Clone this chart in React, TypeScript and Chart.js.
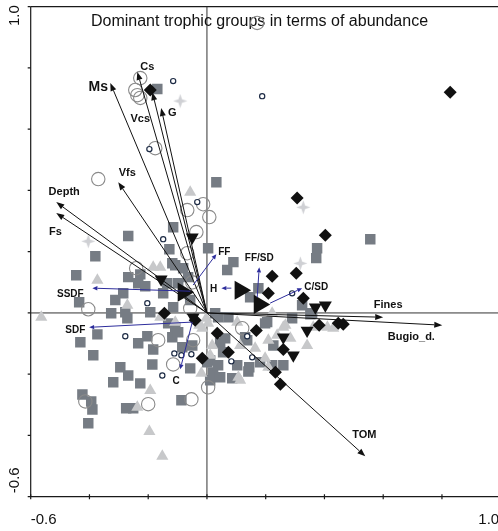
import { useEffect, useRef } from "react";
import { Chart, registerables } from "chart.js";

Chart.register(...registerables);

// ---- data (ordination scores, axis 1 = x, axis 2 = y) ----
const axisMin = -0.6;
const axisMax = 1.0;
const axisTicks = [-0.6, -0.4, -0.2, 0, 0.2, 0.4, 0.6, 0.8, 1.0];
const axisEndLabels = ["-0.6", "1.0"];
const chartTitle = "Dominant trophic groups in terms of abundance";

const squares: [number, number][] = [
  [-0.169, 0.731], [0.032, 0.427], [0.556, 0.241], [-0.115, 0.28], [-0.268, 0.251],
  [-0.128, 0.208], [-0.38, 0.185], [0.004, 0.211], [-0.118, 0.162], [-0.081, 0.146],
  [-0.445, 0.123], [-0.268, 0.117], [-0.227, 0.126], [-0.234, 0.097], [-0.21, 0.087],
  [-0.135, 0.097], [-0.064, 0.117], [-0.149, 0.064], [-0.285, 0.064], [-0.312, 0.042],
  [-0.435, 0.035], [-0.326, -0.001], [-0.278, 0.002], [-0.193, 0.002], [-0.115, 0.019],
  [-0.057, 0.042], [0.028, -0.001], [0.073, -0.014], [-0.271, -0.017], [-0.373, -0.07],
  [-0.431, -0.096], [-0.387, -0.138], [-0.234, -0.099], [-0.203, -0.076], [-0.183, -0.119],
  [-0.118, -0.079], [-0.108, -0.047], [-0.084, -0.112], [-0.295, -0.177], [-0.186, -0.168],
  [-0.057, -0.181], [0.001, -0.161], [0.021, -0.194], [-0.268, -0.204], [-0.319, -0.226],
  [-0.227, -0.23], [-0.424, -0.266], [-0.394, -0.289], [-0.39, -0.315], [-0.404, -0.36],
  [-0.275, -0.311], [-0.251, -0.311], [-0.087, -0.285], [0.011, -0.22], [0.045, -0.21],
  [0.086, -0.213], [0.141, -0.191], [0.038, -0.014], [0.13, -0.079], [0.062, -0.083],
  [0.045, -0.099], [0.055, -0.128], [0.011, -0.155], [0.038, -0.171], [0.103, -0.171],
  [0.137, -0.089], [0.144, -0.177], [0.181, -0.161], [0.198, -0.034], [0.29, -0.017],
  [0.352, -0.004], [0.226, -0.106], [0.26, -0.171], [0.222, -0.171], [-0.098, -0.063],
  [-0.132, -0.034], [-0.05, -0.106], [0.09, 0.166], [0.069, 0.14], [0.147, 0.051],
  [0.175, 0.081], [0.375, 0.211], [0.372, 0.179], [0.324, 0.025], [0.205, -0.03],
  [-0.108, 0.156], [-0.098, 0.097], [0.358, -0.001],
];

const lightTriangles: [number, number][] = [
  [-0.057, 0.394], [-0.564, -0.014], [-0.373, 0.107], [-0.183, 0.149], [-0.159, 0.149],
  [-0.271, 0.025], [-0.159, -0.014], [-0.002, -0.017], [-0.026, -0.04], [-0.193, -0.253],
  [-0.237, -0.308], [-0.196, -0.387], [-0.152, -0.468], [-0.019, -0.197], [0.107, -0.21],
  [0.004, -0.034], [0.103, -0.03], [0.113, -0.106], [0.164, -0.115], [0.239, -0.073],
  [0.209, -0.089], [0.26, -0.047], [0.284, -0.083], [0.341, -0.106], [0.209, -0.177],
  [0.113, -0.22], [0.018, -0.106], [-0.016, -0.05], [0.198, -0.148], [0.362, -0.047],
  [0.222, -0.001], [0.267, -0.04], [0.41, -0.047], [0.43, -0.05], [0.011, -0.138],
  [-0.108, -0.03],
];

const openCircles: [number, number][] = [
  [-0.227, 0.767], [-0.244, 0.728], [-0.237, 0.711], [-0.227, 0.702], [-0.176, 0.538],
  [-0.37, 0.437], [0.171, 0.947], [-0.067, 0.336], [-0.013, 0.355], [0.008, 0.313],
  [-0.036, 0.264], [-0.067, 0.195], [-0.05, 0.1], [-0.241, 0.146], [-0.404, 0.012],
  [-0.166, -0.089], [-0.2, -0.298], [-0.414, -0.289], [-0.115, -0.168], [-0.053, -0.282],
  [0.004, -0.243], [0.12, -0.05], [-0.047, -0.089], [-0.057, 0.015],
];

const smallCircles: [number, number][] = [
  [-0.115, 0.757], [-0.196, 0.535], [0.188, 0.708], [-0.033, 0.362], [-0.149, 0.241],
  [-0.203, 0.032], [-0.278, -0.076], [-0.111, -0.132], [-0.087, -0.138], [-0.053, -0.135],
  [-0.152, -0.204], [0.137, -0.076], [0.083, -0.158], [0.154, -0.145], [0.29, 0.064],
];

const diamonds: [number, number][] = [
  [-0.193, 0.728], [0.828, 0.721], [0.307, 0.375], [0.403, 0.254], [0.304, 0.13],
  [0.222, 0.12], [0.209, 0.064], [0.328, 0.048], [0.382, -0.04], [0.447, -0.034],
  [0.464, -0.037], [0.168, -0.057], [0.035, -0.066], [-0.145, -0.001], [-0.016, -0.148],
  [0.26, -0.119], [0.233, -0.194], [0.25, -0.233], [0.073, -0.128], [-0.04, -0.024],
];

const downTriangles: [number, number][] = [
  [-0.05, 0.247], [0.369, 0.019], [0.403, 0.025], [0.341, -0.057], [0.294, -0.138],
  [0.26, -0.079], [-0.047, -0.014], [-0.156, 0.11],
];

const stars: [number, number][] = [
  [-0.091, 0.692], [-0.404, 0.234], [0.328, 0.345], [0.318, 0.162],
];

const centroids: [number, number][] = [
  [-0.081, 0.068], [0.113, 0.074], [0.178, 0.028],
];

// environmental variables (arrows from origin)
const envNames = ["Cs", "Ms", "Vcs", "G", "Vfs", "Depth", "Fs", "Fines", "Bugio_d.", "TOM"];
const envX = [-0.237, -0.329, -0.186, -0.156, -0.302, -0.513, -0.513, 0.6, 0.801, 0.539];
const envY = [0.787, 0.751, 0.721, 0.669, 0.427, 0.362, 0.326, -0.014, -0.04, -0.468];
const envLabelX = [-0.203, -0.37, -0.227, -0.118, -0.271, -0.486, -0.516, 0.617, 0.696, 0.536];
const envLabelY = [0.803, 0.738, 0.633, 0.653, 0.457, 0.394, 0.264, 0.025, -0.079, -0.397];
const envLabelSize = [11, 14, 11, 11, 11, 11, 11, 11, 11, 11];

// trophic groups (supplementary arrows)
const groupNames = ["SSDF", "FF", "H", "FF/SD", "C/SD", "SDF", "C"];
const groupFromX = [-0.057, -0.047, 0.083, 0.171, 0.215, -0.053, -0.05];
const groupFromY = [0.071, 0.091, 0.081, 0.051, 0.032, -0.03, -0.03];
const groupToX = [-0.39, 0.032, 0.049, 0.178, 0.324, -0.401, -0.091];
const groupToY = [0.081, 0.192, 0.081, 0.149, 0.081, -0.047, -0.184];
const groupLabelX = [-0.465, 0.059, 0.023, 0.178, 0.372, -0.448, -0.105];
const groupLabelY = [0.061, 0.198, 0.077, 0.179, 0.084, -0.055, -0.222];

const FONT = "'Liberation Sans', Arial, Helvetica, sans-serif";

function makeStar(): HTMLCanvasElement {
  const c = document.createElement("canvas");
  c.width = 15;
  c.height = 15;
  const g = c.getContext("2d")!;
  g.fillStyle = "#cfd0d4";
  g.beginPath();
  g.moveTo(7.5, 0.5);
  g.lineTo(9.3, 5.7);
  g.lineTo(14.5, 7.5);
  g.lineTo(9.3, 9.3);
  g.lineTo(7.5, 14.5);
  g.lineTo(5.7, 9.3);
  g.lineTo(0.5, 7.5);
  g.lineTo(5.7, 5.7);
  g.closePath();
  g.fill();
  return c;
}

function drawArrow(
  ctx: CanvasRenderingContext2D,
  x0: number, y0: number, x1: number, y1: number,
  color: string, headLen: number, headW: number, lw: number
) {
  const ang = Math.atan2(y1 - y0, x1 - x0);
  const bx = x1 - headLen * Math.cos(ang);
  const by = y1 - headLen * Math.sin(ang);
  ctx.strokeStyle = color;
  ctx.fillStyle = color;
  ctx.lineWidth = lw;
  ctx.beginPath();
  ctx.moveTo(x0, y0);
  ctx.lineTo(bx, by);
  ctx.stroke();
  ctx.beginPath();
  ctx.moveTo(x1, y1);
  ctx.lineTo(bx + headW * Math.sin(ang), by - headW * Math.cos(ang));
  ctx.lineTo(bx - headW * Math.sin(ang), by + headW * Math.cos(ang));
  ctx.closePath();
  ctx.fill();
}

const pts = (a: [number, number][]) => a.map(([x, y]) => ({ x, y }));

export default function App() {
  const ref = useRef<HTMLCanvasElement | null>(null);

  useEffect(() => {
    if (!ref.current) return;
    const star = makeStar();

    const framePlugin = {
      id: "frame",
      beforeDatasetsDraw(chart: any) {
        const ctx: CanvasRenderingContext2D = chart.ctx;
        const { left, right, top, bottom } = chart.chartArea;
        const xs = chart.scales.x;
        const ys = chart.scales.y;
        const W = chart.width;
        const x0 = xs.getPixelForValue(0);
        const y0 = ys.getPixelForValue(0);
        ctx.save();
        ctx.strokeStyle = "#1a1a1a";
        ctx.lineWidth = 1.2;
        ctx.beginPath();
        ctx.moveTo(left, top); ctx.lineTo(left, bottom);
        ctx.moveTo(left, top); ctx.lineTo(Math.max(right, W), top);
        ctx.moveTo(left, bottom); ctx.lineTo(Math.max(right, W), bottom);
        ctx.stroke();
        ctx.lineWidth = 1;
        ctx.strokeStyle = "#333";
        ctx.beginPath();
        ctx.moveTo(x0, top); ctx.lineTo(x0, bottom);
        ctx.moveTo(left, y0); ctx.lineTo(Math.max(right, W), y0);
        ctx.stroke();
        ctx.strokeStyle = "#1a1a1a";
        ctx.lineWidth = 1.2;
        ctx.beginPath();
        for (const v of axisTicks) {
          const px = xs.getPixelForValue(v);
          ctx.moveTo(px, bottom - 2.5); ctx.lineTo(px, bottom + 2.5);
          const py = ys.getPixelForValue(v);
          ctx.moveTo(left - 3, py); ctx.lineTo(left, py);
        }
        ctx.stroke();

        // axis end labels
        ctx.fillStyle = "#111";
        ctx.font = `15px ${FONT}`;
        ctx.textBaseline = "alphabetic";
        ctx.textAlign = "left";
        ctx.fillText(axisEndLabels[0], left, bottom + 27.5);
        ctx.textAlign = "right";
        ctx.fillText(axisEndLabels[1], xs.getPixelForValue(axisMax) - 1.5, bottom + 27.5);
        // rotated y labels
        ctx.save();
        ctx.translate(left - 12, ys.getPixelForValue(axisMax) - 1.5);
        ctx.rotate(-Math.PI / 2);
        ctx.textAlign = "right";
        ctx.fillText(axisEndLabels[1], 0, 0);
        ctx.restore();
        ctx.save();
        ctx.translate(left - 12, ys.getPixelForValue(axisMin) - 3.5);
        ctx.rotate(-Math.PI / 2);
        ctx.textAlign = "left";
        ctx.fillText(axisEndLabels[0], 0, 0);
        ctx.restore();

        // title
        ctx.font = `16px ${FONT}`;
        ctx.textAlign = "center";
        ctx.textBaseline = "middle";
        ctx.fillStyle = "#111";
        ctx.fillText(chartTitle, 259.5, top + 14.5);
        ctx.restore();
      },
      afterDatasetsDraw(chart: any) {
        const ctx: CanvasRenderingContext2D = chart.ctx;
        const xs = chart.scales.x;
        const ys = chart.scales.y;
        const ox = xs.getPixelForValue(0);
        const oy = ys.getPixelForValue(0);
        ctx.save();
        envNames.forEach((_, i) => {
          drawArrow(ctx, ox, oy, xs.getPixelForValue(envX[i]), ys.getPixelForValue(envY[i]), "#111", 8, 3, 1);
        });
        groupNames.forEach((_, i) => {
          drawArrow(
            ctx,
            xs.getPixelForValue(groupFromX[i]), ys.getPixelForValue(groupFromY[i]),
            xs.getPixelForValue(groupToX[i]), ys.getPixelForValue(groupToY[i]),
            "#2d2d9c", 5, 2.2, 1
          );
        });
        ctx.fillStyle = "#111";
        ctx.textAlign = "center";
        ctx.textBaseline = "middle";
        envNames.forEach((n, i) => {
          ctx.font = `bold ${envLabelSize[i]}px ${FONT}`;
          ctx.fillText(n, xs.getPixelForValue(envLabelX[i]), ys.getPixelForValue(envLabelY[i]));
        });
        ctx.font = `bold 10px ${FONT}`;
        groupNames.forEach((n, i) => {
          ctx.fillText(n, xs.getPixelForValue(groupLabelX[i]), ys.getPixelForValue(groupLabelY[i]));
        });
        ctx.restore();
      },
    };

    const chart = new Chart(ref.current, {
      type: "scatter",
      data: {
        datasets: [
          { data: pts(centroids), pointStyle: "triangle", rotation: 90, radius: 11, backgroundColor: "#111", borderColor: "#111", borderWidth: 0 },
          { data: pts(smallCircles), pointStyle: "circle", radius: 2.6, backgroundColor: "#fff", borderColor: "#1d2b45", borderWidth: 1.2 },
          { data: pts(downTriangles), pointStyle: "triangle", rotation: 180, radius: 7.5, backgroundColor: "#111", borderColor: "#111", borderWidth: 0 },
          { data: pts(diamonds), pointStyle: "rectRot", radius: 6.5, backgroundColor: "#111", borderColor: "#111", borderWidth: 0 },
          { data: pts(stars), pointStyle: star as any, radius: 7 },
          { data: pts(openCircles), pointStyle: "circle", radius: 6.7, backgroundColor: "rgba(0,0,0,0)", borderColor: "#8a8a8a", borderWidth: 1.1 },
          { data: pts(lightTriangles), pointStyle: "triangle", radius: 7, backgroundColor: "#c7c8ca", borderColor: "#c7c8ca", borderWidth: 0 },
          { data: pts(squares), pointStyle: "rect", radius: 7.4, backgroundColor: "#767c84", borderColor: "#767c84", borderWidth: 0 },
        ] as any,
      },
      options: {
        animation: false,
        responsive: false,
        maintainAspectRatio: false,
        devicePixelRatio: 1,
        layout: { autoPadding: false, padding: { left: 30.7, right: 4.3, top: 6.7, bottom: 34.3 } },
        plugins: { legend: { display: false }, tooltip: { enabled: false }, title: { display: false } },
        elements: { point: { hoverRadius: 0 } },
        scales: {
          x: { type: "linear", min: axisMin, max: axisMax, display: false },
          y: { type: "linear", min: axisMin, max: axisMax, display: false },
        },
      } as any,
      plugins: [framePlugin],
    });
    return () => chart.destroy();
  }, []);

  return (
    <div style={{ position: "absolute", left: 0, top: 0, width: 498, height: 531, overflow: "hidden", background: "#fff" }}>
      <canvas ref={ref} width={505} height={531} style={{ width: 505, height: 531, display: "block" }} />
    </div>
  );
}
